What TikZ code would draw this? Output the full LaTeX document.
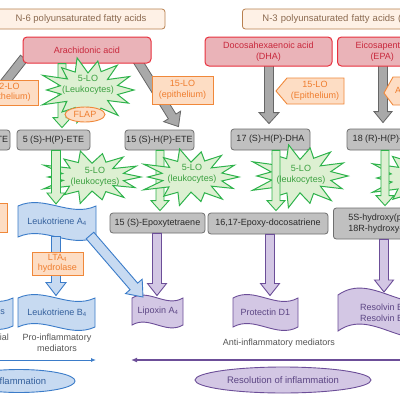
\documentclass[tikz,border=0pt]{standalone}
\usepackage{fontspec}
\setmainfont{Liberation Sans}
\usetikzlibrary{calc,arrows.meta,shapes.geometric}
\definecolor{topfill}{HTML}{FEF1E6}
\definecolor{topdraw}{HTML}{B8804F}
\definecolor{toptext}{HTML}{8B6A50}
\definecolor{redfill}{HTML}{EAB3B8}
\definecolor{reddraw}{HTML}{E8313E}
\definecolor{redtext}{HTML}{C8283C}
\definecolor{grayfill}{HTML}{C0C0C0}
\definecolor{graydraw}{HTML}{6E6E6E}
\definecolor{graytext}{HTML}{2A2A2A}
\definecolor{garfill}{HTML}{A9A9A9}
\definecolor{gardraw}{HTML}{666666}
\definecolor{ofill}{HTML}{FDDDC4}
\definecolor{odraw}{HTML}{F0883A}
\definecolor{otext}{HTML}{EF7D2E}
\definecolor{gfill}{HTML}{DDF0D2}
\definecolor{gdraw}{HTML}{2EB34B}
\definecolor{gtext}{HTML}{3BA040}
\definecolor{bfill}{HTML}{C7DAF1}
\definecolor{bdraw}{HTML}{3B7CC9}
\definecolor{btext}{HTML}{34609C}
\definecolor{pfill}{HTML}{D3C7E4}
\definecolor{pdraw}{HTML}{6C4E98}
\definecolor{ptext}{HTML}{5C4684}
\definecolor{captext}{HTML}{555555}
% block arrow: style, from, to, half shaft, half head, head length
\newcommand\blockarr[6]{%
  \coordinate (ba-h) at ($(#3)!#6!(#2)$);
  \draw[#1] ($(#2)!#4!90:(#3)$) -- ($(ba-h)!#4!90:(#3)$) -- ($(ba-h)!#5!90:(#3)$) -- (#3) -- ($(ba-h)!#5!-90:(#3)$) -- ($(ba-h)!#4!-90:(#3)$) -- ($(#2)!#4!-90:(#3)$) -- cycle;
}
% starburst: cx, cy, rx, ry
\newcommand\starb[4]{%
  \draw[starsty] ({#1+#3},{#2}) \foreach \i in {1,...,27}{ -- ({#1+(1-0.4*mod(\i,2))*(1+0.1*sin(\i*97))*#3*cos(\i*360/28)},{#2+(1-0.4*mod(\i,2))*(1+0.1*sin(\i*97))*#4*sin(\i*360/28)}) } -- cycle;
}
% wave shape: style, x0, y0, x1, y1, control offset
\newcommand\wavesh[6]{%
  \draw[#1] (#2,#3) .. controls ({#2+(#4-#2)/3},{#3-#6}) and ({#2+2*(#4-#2)/3},{#3+#6}) .. (#4,#3) -- (#4,#5) .. controls ({#2+2*(#4-#2)/3},{#5+#6}) and ({#2+(#4-#2)/3},{#5-#6}) .. (#2,#5) -- cycle;
}
\begin{document}
\begin{tikzpicture}[x=1pt,y=-1pt,
  every node/.style={font=\fontsize{9}{10.5}\selectfont, inner sep=0pt, align=center},
  topbox/.style={draw=topdraw, fill=topfill, text=toptext, rounded corners=3pt, line width=0.8pt, minimum height=20pt, font=\fontsize{9.5}{11}\selectfont},
  redbox/.style={draw=reddraw, fill=redfill, text=redtext, rounded corners=4pt, line width=1pt},
  graybox/.style={draw=graydraw, fill=grayfill, text=graytext, rounded corners=3pt, line width=0.8pt, minimum height=20pt},
  orangebox/.style={draw=odraw, fill=ofill, text=otext, line width=0.9pt},
  otextsty/.style={text=otext},
  startext/.style={text=gtext},
  starsty/.style={draw=gdraw, fill=gfill, line width=1pt},
  garrow/.style={draw=gardraw, fill=garfill, line width=0.8pt},
  grarrow/.style={draw=gdraw, fill=gfill, line width=0.9pt},
  barrow/.style={draw=bdraw, fill=bfill, line width=0.9pt},
  parrow/.style={draw=pdraw, fill=pfill, line width=0.9pt},
  bluew/.style={draw=bdraw, fill=bfill, line width=0.9pt},
  purpw/.style={draw=pdraw, fill=pfill, line width=0.9pt},
  bluetext/.style={text=btext},
  purptext/.style={text=ptext},
  captext/.style={text=captext},
  blueell/.style={ellipse, draw=bdraw, fill=bfill, text=btext, line width=0.9pt, font=\fontsize{9.5}{11}\selectfont},
  purpell/.style={ellipse, draw=pdraw, fill=pfill, text=ptext, line width=0.9pt, font=\fontsize{9.5}{11}\selectfont},
  blueline/.style={draw=bdraw, line width=0.9pt, -{Latex[length=5pt,width=4pt]}},
  purpline/.style={draw=pdraw, line width=1.6pt, -{Latex[length=6pt,width=5pt]}}
]
\useasboundingbox (0,0) rectangle (400,400);
\clip (0,0) rectangle (400,400);
\fill[white] (0,0) rectangle (400,400);

% ---- gray intermediates
\node[graybox, minimum width=70pt] (h12) at (-25,140) {12 (S)-H(P)-ETE};
\node[graybox, minimum width=73pt] (h5) at (53.5,140) {5 (S)-H(P)-ETE};
\node[graybox, minimum width=69pt] (h15) at (159.5,140) {15 (S)-H(P)-ETE};
\node[graybox, minimum width=79pt, minimum height=21pt] (h17) at (270.5,139.5) {17 (S)-H(P)-DHA};
\node[graybox, minimum width=79pt, minimum height=21pt] (h18) at (386.5,139.5) {18 (R)-H(P)-EPE};

% ---- gray arrows
\coordinate (aac) at (87,50);
\coordinate (ga-l-s) at (24,58);
\coordinate (ga-r-s) at (137,60);
\coordinate (ga-l-t) at ($(h12.north)+(-5,-3)$);
\coordinate (ga-r-t) at ($(h15.north)+(19,-3)$);
\coordinate (ga-d-s) at (269,62);
\coordinate (ga-d-t) at ($(h17.north)+(-1.5,-5)$);
\coordinate (ga-e-s) at (383,62);
\coordinate (ga-e-t) at ($(h18.north)+(-3.5,-6)$);
\blockarr{garrow}{ga-l-s}{ga-l-t}{4.5pt}{10pt}{11pt}
\blockarr{garrow}{ga-r-s}{ga-r-t}{4.5pt}{10pt}{12pt}
\blockarr{garrow}{ga-d-s}{ga-d-t}{4.5pt}{10pt}{11pt}
\blockarr{garrow}{ga-e-s}{ga-e-t}{4.5pt}{9pt}{11pt}

% ---- red precursor boxes
\node[redbox, minimum width=128pt, minimum height=26pt] (aa) at (aac) {Arachidonic acid};
\node[redbox, minimum width=127pt, minimum height=29pt] (dha) at (268.5,51.5) {Docosahexaenoic acid\\(DHA)};
\node[redbox, anchor=west, minimum height=29pt, text width=109pt, align=left, inner xsep=18pt] (epa) at (337,51.5) {Eicosapentaenoic acid\\\hspace*{15pt}(EPA)};

% ---- top boxes
\node[topbox, minimum width=168pt] (n6) at (81,19) {N-6 polyunsaturated fatty acids};
\node[topbox, anchor=west, text width=200pt, align=left, inner xsep=20pt] (n3) at (242,19) {N-3 polyunsaturated fatty acids (PUFAs)};

% ---- orange enzyme boxes
\node[orangebox, minimum width=62pt, minimum height=25pt] (lo12) at (7,92.5) {12-LO\\(epithelium)};
\node[orangebox, minimum width=61pt, minimum height=28pt] (lo15) at (182.5,90) {15-LO\\(epithelium)};
\draw[orangebox] (276,91) -- (287,78) -- (344,78) -- (344,104) -- (287,104) -- cycle;
\node[otextsty] (lo15d) at (315,91) {15-LO\\(Epithelium)};
\draw[orangebox] (384,93) -- (393,77) -- (470,77) -- (470,105) -- (393,105) -- cycle;
\node[otextsty, anchor=west] (asp) at (395,91) {Aspirin};

% ---- star 1 and its arrow
\coordinate (g1s) at ($(h5.north)+(8.5,-66)$);
\coordinate (g1t) at ($(h5.north)+(8.5,-2)$);
\blockarr{grarrow}{g1s}{g1t}{4pt}{9pt}{10pt}
\starb{88}{90}{46}{31}
\node[startext] (s1) at (88,85) {5-LO\\(Leukocytes)};
\node[orangebox, ellipse, minimum width=40pt, minimum height=15pt] (flap) at (85,114.5) {FLAP};

% ---- lower gray boxes
\node[graybox, minimum width=95pt] (ep15) at (157.5,223) {15 (S)-Epoxytetraene};
\node[graybox, minimum width=120pt, minimum height=21pt] (ep16) at (268,223.5) {16,17-Epoxy-docosatriene};
\node[graybox, anchor=west, minimum height=31pt, text width=110pt, align=left, inner xsep=15pt] (hy5) at (333,223.5) {5S-hydroxy(peroxy)-\\18R-hydroxy-EPE};

% ---- Leukotriene A4 wave
\wavesh{bluew}{18}{206}{96}{237}{12}
\node[bluetext] (lta4) at (57,221.5) {Leukotriene A\textsubscript{4}};

% ---- stars 2-5 and green arrows
\coordinate (g3s) at ($(h15.south)+(0.5,0)$);
\coordinate (g3t) at ($(ep15.north)+(2.5,-2)$);
\blockarr{grarrow}{g3s}{g3t}{4pt}{9pt}{10pt}
\starb{92}{177}{49}{25}
\starb{191}{177}{48}{27}
\starb{300}{176}{48}{30}
\starb{420}{178}{48}{30}
\coordinate (g2s) at ($(h5.south)+(2.5,0)$);
\coordinate (g2t) at ($(lta4)+(-1,-17.5)$);
\blockarr{grarrow}{g2s}{g2t}{4.5pt}{9pt}{11pt}
\coordinate (g4s) at ($(h17.south)+(5.5,0)$);
\coordinate (g4t) at ($(ep16.north)+(8,-2)$);
\blockarr{grarrow}{g4s}{g4t}{4pt}{9pt}{10pt}
\coordinate (g5s) at ($(h18.south)+(-1.5,0)$);
\coordinate (g5t) at ($(hy5.north west)+(52,-2)$);
\blockarr{grarrow}{g5s}{g5t}{4pt}{9pt}{10pt}
\node[startext] (s2) at (95,177) {5-LO\\(leukocytes)};
\node[startext] (s3) at (192,174) {5-LO\\(leukocytes)};
\node[startext] (s4) at (301,175) {5-LO\\(leukocytes)};

% ---- left orange sliver
\node[orangebox, minimum width=67pt, minimum height=29pt] (lox) at (-26.5,217.5) {};

% ---- bottom mediators
\wavesh{bluew}{-62}{298}{13}{326}{12}
\node[bluetext, anchor=east] (hx) at (5,312) {Hepoxilins};
\wavesh{bluew}{18}{298}{95}{327}{12}
\node[bluetext] (ltb4) at (57,312.5) {Leukotriene B\textsubscript{4}};
\wavesh{purpw}{132}{298}{183}{325}{10}
\node[purptext] (lxa4) at (158,311.5) {Lipoxin A\textsubscript{4}};
\wavesh{purpw}{233}{298}{298}{327}{12}
\node[purptext] (pd1) at (265.5,312.5) {Protectin D1};
\wavesh{purpw}{338}{295}{440}{331}{24}
\node[purptext, anchor=west, align=left] (rv) at (360,313) {Resolvin E1\\Resolvin E2};

% ---- blue arrows
\coordinate (b1s) at ($(lta4)+(-1,15)$);
\coordinate (b1t) at ($(ltb4)+(-1,-17)$);
\blockarr{barrow}{b1s}{b1t}{4.5pt}{10pt}{13pt}
\coordinate (b2s) at ($(lta4)+(33,14)$);
\coordinate (b2t) at ($(lxa4)+(-15,-14.5)$);
\blockarr{barrow}{b2s}{b2t}{5pt}{11pt}{14pt}
\node[orangebox, minimum width=51pt, minimum height=23pt] (lta) at (57.5,263.5) {LTA\textsubscript{4}\\hydrolase};

% ---- purple arrows
\coordinate (p1s) at ($(ep15.south)+(-0.5,0)$);
\coordinate (p1t) at ($(lxa4)+(-1,-16)$);
\blockarr{parrow}{p1s}{p1t}{4.5pt}{9.5pt}{12pt}
\coordinate (p2s) at ($(ep16.south)+(2,0)$);
\coordinate (p2t) at ($(pd1)+(4.5,-17)$);
\blockarr{parrow}{p2s}{p2t}{4.5pt}{9.5pt}{12pt}
\coordinate (p3s) at ($(hy5.south west)+(51,0)$);
\coordinate (p3t) at ($(rv.west)+(24,-21)$);
\blockarr{parrow}{p3s}{p3t}{4.5pt}{9.5pt}{12pt}

% ---- captions
\node[captext] (proinf) at (57,343) {Pro-inflammatory\\mediators};
\node[captext, anchor=east] (endo) at (9,337.5) {Endothelial};
\node[captext] (antiinf) at (279,343) {Anti-inflammatory mediators};

% ---- direction lines
\coordinate (bl0) at (-5,360);
\coordinate (bl1) at (96,360);
\draw[blueline] (bl0) -- (bl1);
\coordinate (pl0) at (405,360);
\coordinate (pl1) at (131,360);
\draw[purpline] (pl0) -- (pl1);

% ---- ellipses
\node[blueell, minimum width=112pt, minimum height=23pt] (infl) at (19,381) {Inflammation};
\node[purpell, minimum width=176pt, minimum height=26pt] (resol) at (283,380) {Resolution of inflammation};
\end{tikzpicture}
\end{document}
